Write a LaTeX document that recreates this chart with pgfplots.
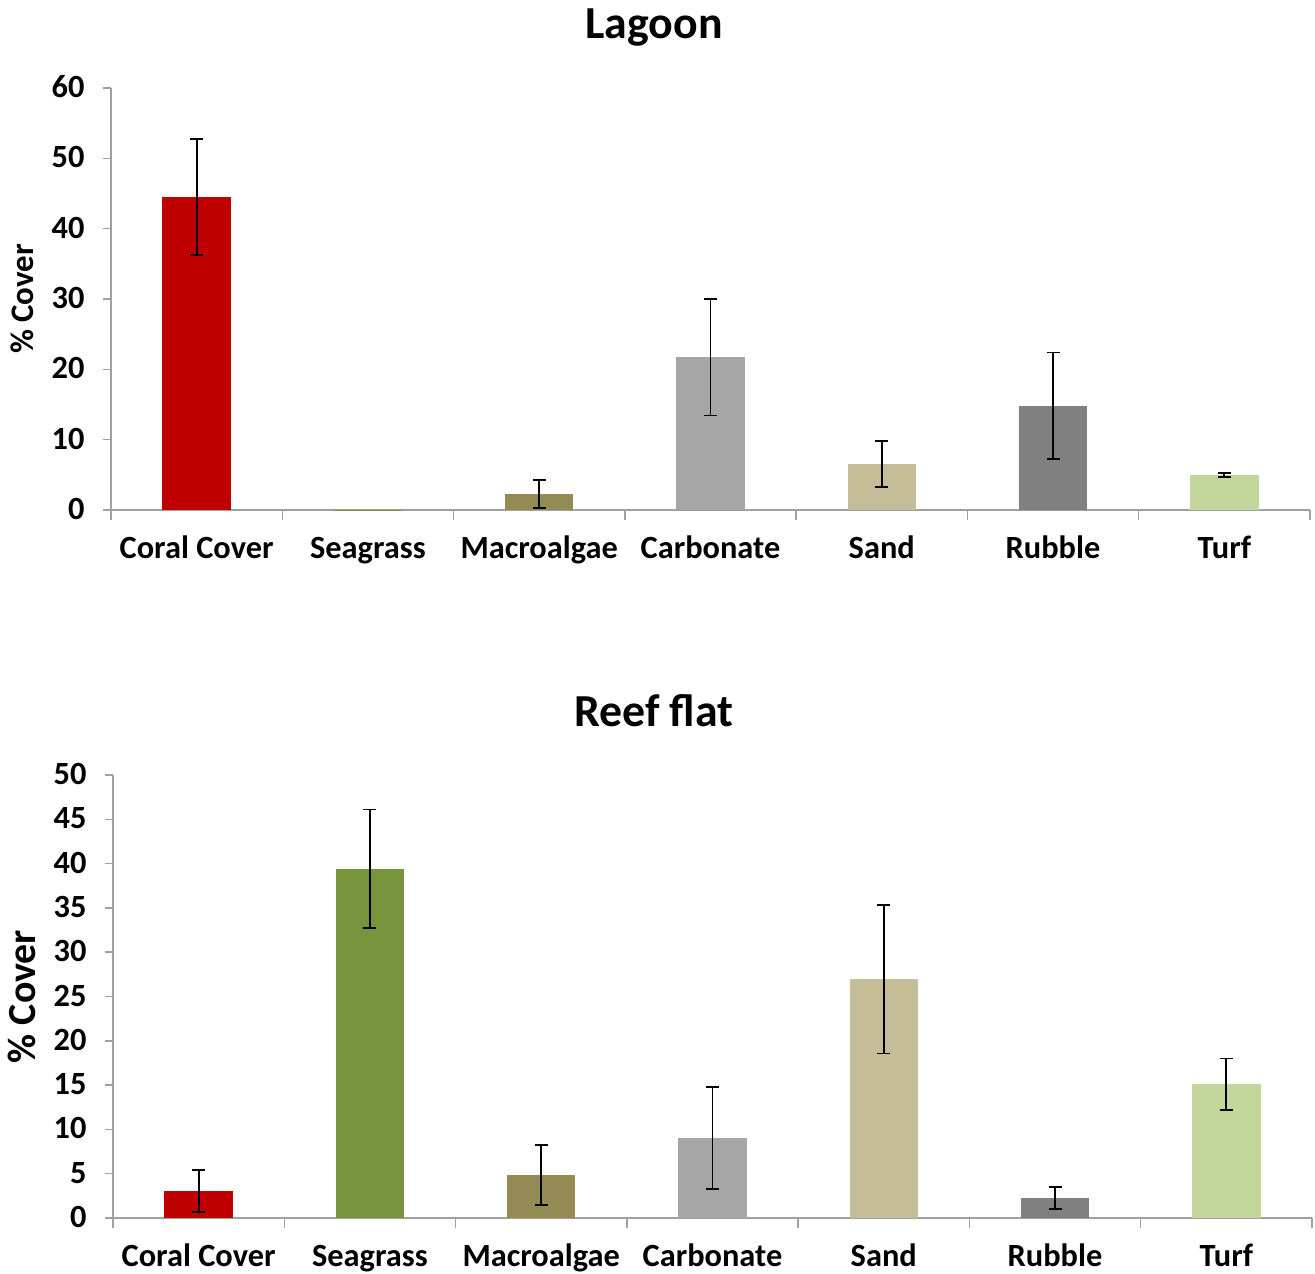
\documentclass[border=0pt]{standalone}
\usepackage{pgfplots}
\pgfplotsset{compat=1.18}
\usepackage{fontspec}
\setmainfont{Carlito}
\definecolor{coral}{HTML}{C00000}
\definecolor{seagrass}{HTML}{77933C}
\definecolor{macro}{HTML}{948A54}
\definecolor{carb}{HTML}{A6A6A6}
\definecolor{sand}{HTML}{C4BD97}
\definecolor{rubble}{HTML}{808080}
\definecolor{turf}{HTML}{C3D69B}
\definecolor{axgray}{HTML}{A0A0A0}
\pgfplotsset{
  mybar/.style={ybar, bar width=0.4, bar shift=0pt, draw=none, fill=#1,
    error bars/.cd, y dir=both, y explicit,
    error bar style={black, line width=1.8bp},
    error mark options={black, line width=1.8bp, mark size=6.5bp, rotate=90}},
  panel/.style={
    scale only axis, width=1199bp,
    axis lines*=left,
    axis line style={axgray, line width=1.5bp},
    xmin=-0.5, xmax=6.5, ymin=0,
    xtick={0,...,6},
    xticklabels={Coral Cover, Seagrass, Macroalgae, Carbonate, Sand, Rubble, Turf},
    major x tick style={draw=none},
    minor xtick={-0.5,0.5,...,6.5},
    minor tick length=10bp,
    major tick length=8bp,
    tick align=outside,
    tick style={axgray, line width=1.5bp},
    /pgf/number format/assume math mode=true,
    ticklabel style={font=\bfseries\fontsize{32.5}{38}\selectfont},
    typeset ticklabels with strut,
    yticklabel style={xshift=-15bp, yshift=-2bp},
    xticklabel style={yshift=-10bp},
    title style={font=\bfseries\fontsize{46}{54}\selectfont, anchor=base},
    ylabel style={at={(rel axis cs:-0.074,0.5)}, anchor=center},
  }
}
\begin{document}
\begin{tikzpicture}
\path[use as bounding box] (0,0) rectangle (1315bp,-1274bp);
\begin{axis}[panel, at={(111bp,-510bp)}, anchor=south west, height=422bp,
  ymax=60, ytick={0,10,...,60},
  title={Lagoon}, title style={at={(rel axis cs:0.453,1)}, yshift=44bp},
  ylabel={\% Cover}, ylabel style={font=\bfseries\fontsize{33}{40}\selectfont}]
\addplot[mybar=coral] coordinates {(0,44.5) +- (0,8.25)};
\addplot[mybar=seagrass] coordinates {(1,0.05)};
\addplot[mybar=macro] coordinates {(2,2.27) +- (0,2.0)};
\addplot[mybar=carb] coordinates {(3,21.75) +- (0,8.3)};
\addplot[mybar=sand] coordinates {(4,6.54) +- (0,3.27)};
\addplot[mybar=rubble] coordinates {(5,14.8) +- (0,7.6)};
\addplot[mybar=turf] coordinates {(6,4.98) +- (0,0.25)};
\end{axis}
\begin{axis}[panel, at={(113bp,-1218bp)}, anchor=south west, height=443bp,
  ymax=50, ytick={0,5,...,50},
  title={Reef flat}, title style={at={(rel axis cs:0.451,1)}, yshift=43bp},
  ylabel={\% Cover}, ylabel style={font=\bfseries\fontsize{40}{48}\selectfont, at={(rel axis cs:-0.076,0.5)}}]
\addplot[mybar=coral] coordinates {(0,3.05) +- (0,2.35)};
\addplot[mybar=seagrass] coordinates {(1,39.4) +- (0,6.7)};
\addplot[mybar=macro] coordinates {(2,4.85) +- (0,3.4)};
\addplot[mybar=carb] coordinates {(3,9.03) +- (0,5.8)};
\addplot[mybar=sand] coordinates {(4,26.97) +- (0,8.4)};
\addplot[mybar=rubble] coordinates {(5,2.26) +- (0,1.24)};
\addplot[mybar=turf] coordinates {(6,15.1) +- (0,2.9)};
\end{axis}
\end{tikzpicture}
\end{document}
